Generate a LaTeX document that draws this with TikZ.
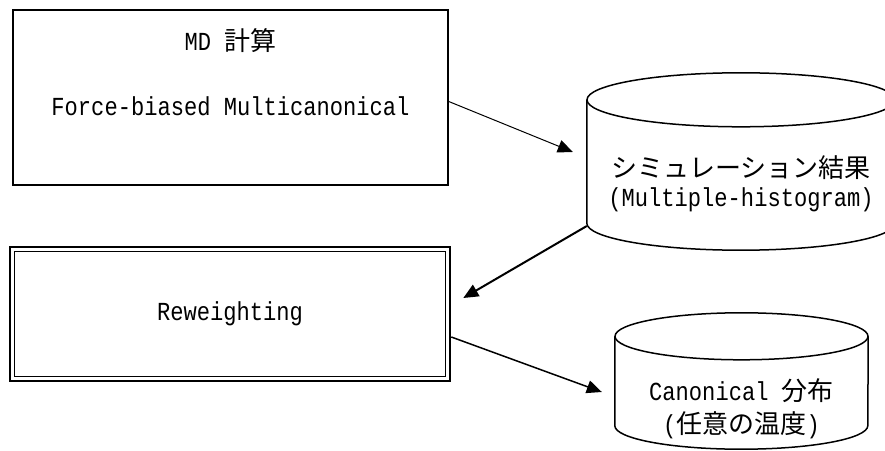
\documentclass[tikz,border=0pt]{standalone}
\usepackage{fontspec}
\setmainfont[FakeStretch=0.85]{Liberation Mono}
\newfontfamily\cjk{Noto Sans CJK JP}
\usetikzlibrary{arrows.meta,positioning,calc}

\begin{document}
\begin{tikzpicture}[
        x=1pt, y=1pt,
        every node/.style={font=\fontsize{26pt}{29pt}\selectfont, inner sep=0pt},
        procbox/.style={draw, line width=1.5pt, minimum width=435pt, minimum height=175pt},
        framebox/.style={draw, line width=2.6pt, minimum width=440pt, minimum height=134pt},
        store/.style={line width=1.5pt},
        txt/.style={align=center},
        arr/.style={-{Triangle[length=15pt, width=13pt]}}
    ]
        \useasboundingbox (0,0) rectangle (885,450);

        % MD box
        \node[procbox] (md) at (230.5, 352.5) {};
        \node[txt] (mdtitle) at ($(md.north)+(0,-31)$) {MD {\cjk 計算}};
        \node[txt] (mdmethod) at ($(md.north)+(0,-97)$) {Force-biased Multicanonical};

        % results cylinder
        \node[minimum width=308pt, minimum height=177pt] (sim) at (741, 288.5) {};
        \draw[store] ($(sim.north)+(0,-27)$) ellipse [x radius=154, y radius=27];
        \draw[store] ($(sim.north west)+(0,-27)$) -- ($(sim.south west)+(0,27)$)
            arc[start angle=180, end angle=360, x radius=154, y radius=27] -- ($(sim.north east)+(0,-27)$);
        \node[txt] (simtxt) at ($(sim.center)+(0,-22.5)$) {{\cjk シミュレーション結果}\\(Multiple-histogram)};

        % reweighting box
        \node[framebox] (rew) at (230, 136) {};
        \draw[line width=1.3pt] ([shift={(5.5pt,-5.5pt)}]rew.north west) rectangle ([shift={(-5.5pt,5.5pt)}]rew.south east);
        \node[txt] (rewtxt) at (rew.center) {Reweighting};

        % canonical cylinder
        \node[minimum width=253pt, minimum height=136pt] (can) at (741.5, 69) {};
        \draw[store] ($(can.north)+(0,-23.5)$) ellipse [x radius=126.5, y radius=23.5];
        \draw[store] ($(can.north west)+(0,-23.5)$) -- ($(can.south west)+(0,23.5)$)
            arc[start angle=180, end angle=360, x radius=126.5, y radius=23.5] -- ($(can.north east)+(0,-23.5)$);
        \node[txt] (cantxt) at ($(can.center)+(0,-27.5)$) {Canonical {\cjk 分布}\\[4pt]({\cjk 任意の温度})};

        % arrows
        \draw[arr, line width=1pt] ($(md.east)+(0,-4)$) -- ($(sim.west)+(-14,9.5)$);
        \draw[arr, line width=2pt] ($(sim.west)+(0,-64.5)$) -- ($(rew.east)+(12,16)$);
        \draw[arr, line width=1.5pt] ($(rew.east)+(0,-23)$) -- ($(can.west)+(-13,-11)$);
    \end{tikzpicture}
\end{document}
